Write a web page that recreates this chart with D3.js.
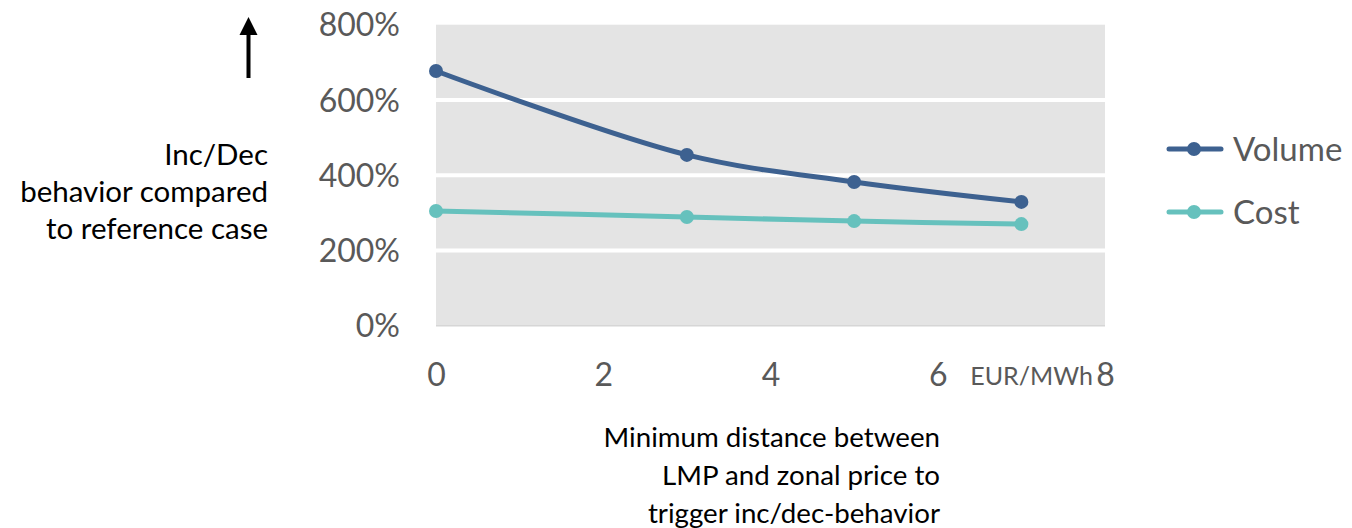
<!DOCTYPE html>
<html><head><meta charset="utf-8">
<script src="https://cdn.jsdelivr.net/npm/d3@7"></script>
<style>body{margin:0;background:#fff}svg{display:block}</style>
</head><body>
<svg id="c" width="1352" height="528"></svg>
<script>
const xValues = [0, 3, 5, 7];
const volume = [677, 454, 382, 329];
const cost = [305, 289, 278, 270];
const yTicks = [0, 200, 400, 600, 800];
const xTicks = [0, 2, 4, 6, 8];
const seriesNames = ["Volume", "Cost"];
const seriesColors = ["#3d6190", "#66c1bd"];

const svg = d3.select("#c");
const font = "Lato, 'Open Sans', sans-serif";
const L = 436, R = 1105, T = 24.7, B = 325.7;
const x = d3.scaleLinear().domain([0, 8]).range([L, R]);
const y = d3.scaleLinear().domain([0, 800]).range([B, T]);

svg.append("rect").attr("x", L).attr("y", T).attr("width", R - L).attr("height", B - T).attr("fill", "#e4e4e4");
svg.append("g").selectAll("line").data(yTicks.filter(d => d > 0 && d < 800)).join("line")
  .attr("x1", L).attr("x2", R).attr("y1", d => y(d)).attr("y2", d => y(d))
  .attr("stroke", "#fff").attr("stroke-width", 4);
svg.append("line").attr("x1", L).attr("x2", R).attr("y1", B).attr("y2", B).attr("stroke", "#d6d6d6").attr("stroke-width", 1.5);

const yAxis = svg.append("g").attr("transform", `translate(${400},0)`)
  .call(d3.axisLeft(y).tickValues(yTicks).tickFormat(d => d + "%").tickSize(0).tickPadding(0));
yAxis.select(".domain").remove();
yAxis.selectAll("text").attr("font-family", font).attr("font-size", 32).attr("fill", "#595959").attr("dy", "0.35em");

const xAxis = svg.append("g").attr("transform", `translate(0,${363})`)
  .call(d3.axisBottom(x).tickValues(xTicks).tickSize(0).tickPadding(0));
xAxis.select(".domain").remove();
xAxis.selectAll("text").attr("font-family", font).attr("font-size", 32).attr("fill", "#595959").attr("dy", "0.71em");

svg.append("text").attr("x", 1093).attr("y", 385).attr("text-anchor", "end")
  .attr("font-family", font).attr("font-size", 25).attr("fill", "#595959").text("EUR/MWh");

const series = [volume, cost];
const line = d3.line().x((d, i) => x(xValues[i])).y(d => y(d)).curve(d3.curveCatmullRom.alpha(0.5));
series.forEach((s, k) => {
  svg.append("path").attr("d", line(s)).attr("fill", "none").attr("stroke", seriesColors[k])
    .attr("stroke-width", 5).attr("stroke-linecap", "round");
  svg.append("g").selectAll("circle").data(s).join("circle")
    .attr("cx", (d, i) => x(xValues[i])).attr("cy", d => y(d)).attr("r", 7).attr("fill", seriesColors[k]);
});

// legend
const legY = [149, 212];
seriesNames.forEach((n, k) => {
  const g = svg.append("g");
  g.append("line").attr("x1", 1169).attr("x2", 1221).attr("y1", legY[k]).attr("y2", legY[k])
    .attr("stroke", seriesColors[k]).attr("stroke-width", 5).attr("stroke-linecap", "round");
  g.append("circle").attr("cx", 1194).attr("cy", legY[k]).attr("r", 7).attr("fill", seriesColors[k]);
  g.append("text").attr("x", 1233).attr("y", legY[k]).attr("dy", "0.35em")
    .attr("font-family", font).attr("font-size", 33).attr("fill", "#595959").text(n);
});

// arrow
svg.append("rect").attr("x", 246.5).attr("y", 32).attr("width", 4).attr("height", 46).attr("fill", "#000");
svg.append("path").attr("d", "M248.5,17 L257.5,35 L239.5,35 Z").attr("fill", "#000");

// y title
const yTitle = ["Inc/Dec", "behavior compared", "to reference case"];
svg.append("g").selectAll("text").data(yTitle).join("text")
  .attr("x", 268).attr("y", (d, i) => 165 + i * 37).attr("text-anchor", "end")
  .attr("font-family", font).attr("font-size", 29.5).attr("fill", "#000").text(d => d);

const xTitle = ["Minimum distance between", "LMP and zonal price to", "trigger inc/dec-behavior"];
svg.append("g").selectAll("text").data(xTitle).join("text")
  .attr("x", 940).attr("y", (d, i) => 447 + i * 38).attr("text-anchor", "end")
  .attr("font-family", font).attr("font-size", 27.7).attr("fill", "#000").text(d => d);
</script>
</body></html>
